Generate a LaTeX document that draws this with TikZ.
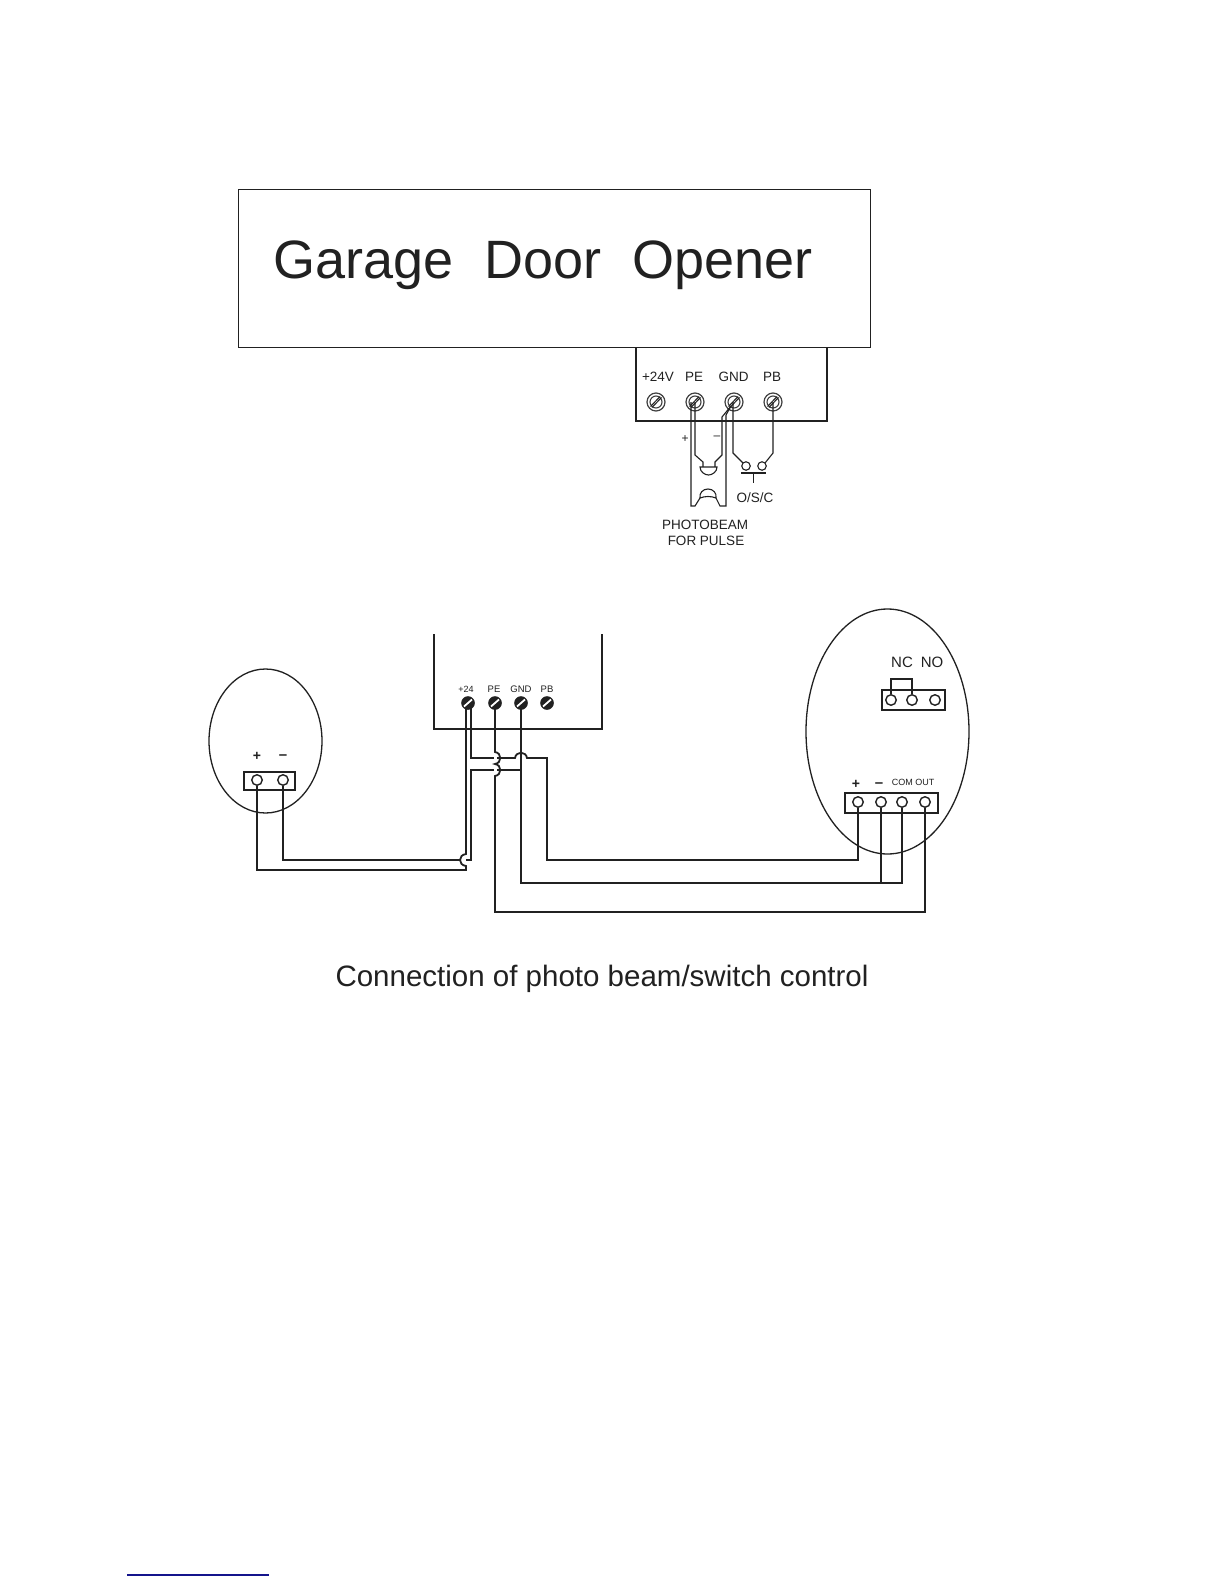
\documentclass[tikz,border=0pt]{standalone}
\usepackage{fontspec}
\setmainfont{Liberation Sans}
\usetikzlibrary{calc,shapes.geometric}
\definecolor{ink}{gray}{0.13}
\definecolor{soft}{gray}{0.25}
\definecolor{rulenavy}{RGB}{20,20,140}
\tikzset{
  lbl/.style={inner sep=0pt,text=ink,align=center},
  thinw/.style={draw=ink,line width=1.1pt,line join=miter},
  wire/.style={draw=ink,line width=1.8pt,line join=miter},
  outline/.style={draw=ink,line width=1.2pt},
  hole/.style={circle,draw=ink,fill=white,line width=1.4pt,minimum size=10.5pt,inner sep=0pt},
  screwA/.style={circle,draw=soft,fill=white,line width=1.2pt,minimum size=18pt,inner sep=0pt},
  screwB/.style={circle,fill=ink,draw=ink,line width=.5pt,minimum size=13pt,inner sep=0pt}
}
\newcommand{\screwslashA}[1]{%
  \draw[soft,line width=1.1pt] (#1.center) circle[radius=6pt];
  \draw[ink,line width=1pt] ($(#1.center)+(-5.5,4.5)$) -- ($(#1.center)+(4,-5.5)$)
                           ($(#1.center)+(-4,5.5)$) -- ($(#1.center)+(5.5,-4.5)$);}
\newcommand{\screwslashB}[1]{%
  \draw[white,line width=1.8pt] ($(#1.center)+(-4,3.5)$) -- ($(#1.center)+(4,-3.5)$);}
\begin{document}
\begin{tikzpicture}[x=1pt,y=-1pt]
\useasboundingbox (0,0) rectangle (1224,1584);
\fill[white] (0,0) rectangle (1224,1584);

% ---- upper unit
\node[draw=ink,line width=1.2pt,minimum width=632pt,minimum height=158pt,inner sep=0pt,anchor=north west] (opener) at (238,189) {};
\node[lbl,font=\fontsize{54}{54}\selectfont] (title) at (543,265) {Garage\hspace{.29em} Door\hspace{.29em} Opener};
\draw[outline] (636,347) -- (636,421) -- (827,421) -- (827,347);

\node[lbl,font=\fontsize{13.5}{14}\selectfont] (l24) at (658,377) {+24V};
\node[lbl,font=\fontsize{13.5}{14}\selectfont] (lpe) at (694,377) {PE};
\node[lbl,font=\fontsize{13.5}{14}\selectfont] (lgnd) at (733.5,377) {GND};
\node[lbl,font=\fontsize{13.5}{14}\selectfont] (lpb) at (772,377) {PB};

\node[screwA] (s24) at (656,402) {};
\node[screwA] (spe) at (695,402) {};
\node[screwA] (sgnd) at (734,402) {};
\node[screwA] (spb) at (773,402) {};
\screwslashA{s24}\screwslashA{spe}\screwslashA{sgnd}\screwslashA{spb}

% photobeam wires
\coordinate (pel) at ($(spe.center)+(-4,0)$);
\coordinate (gndd) at ($(sgnd.center)+(-3,4)$);
\draw[thinw] (pel) -- (691,506) -- (695,506) -- (700,498);
\draw[thinw] (gndd) -- (726,415) -- (726,506) -- (720,506) -- (716,498);
\draw[thinw] (spe.center) -- (695,455) -- (703,462) -- (703,467);
\draw[thinw] (gndd) -- (722,417) -- (722,455) -- (715,462) -- (715,467);
\draw[thinw,fill=white] (700,467) -- (717,467) .. controls (717,472) and (712,475) .. (708.5,475) .. controls (705,475) and (700,472) .. (700,467) -- cycle;
\draw[thinw,fill=white] (700,498) .. controls (699,493) and (703,489) .. (708,489) .. controls (713,489) and (717,493) .. (716,498) .. controls (711,496) and (705,496) .. (700,498) -- cycle;
\draw[thinw] (733,402) -- (733,453) -- (743,463);
\draw[thinw] (spb.center) -- (773,453) -- (765,463);
\node[hole,minimum size=8.5pt,line width=1.1pt] (osc1) at (746,466) {};
\node[hole,minimum size=8.5pt,line width=1.1pt] (osc2) at (762,466) {};
\coordinate (barl) at (741,473);
\coordinate (barr) at (766,473);
\coordinate (stem) at (753.5,473);
\draw[thinw] (barl) -- (barr);
\draw[thinw] (stem) -- +(0,10);
\node[lbl,font=\fontsize{12}{12}\selectfont] (plus1) at (685,439) {+};
\node[lbl,font=\fontsize{12}{12}\selectfont] (minus1) at (717,438) {–};
\node[lbl,font=\fontsize{13.5}{14}\selectfont] (osc) at (755,497.5) {O/S/C};
\node[lbl,font=\fontsize{13.5}{16}\selectfont] (pb1) at (705,524.5) {PHOTOBEAM};
\node[lbl,font=\fontsize{13.5}{16}\selectfont] (pb2) at (706,540.5) {FOR PULSE};

% ---- lower controller
\draw[wire] (434,634) -- (434,729) -- (602,729) -- (602,634);
\node[lbl,font=\fontsize{9}{9}\selectfont] (m24) at (466,689) {+24};
\node[lbl,font=\fontsize{9.5}{9}\selectfont] (mpe) at (494,689) {PE};
\node[lbl,font=\fontsize{9.5}{9}\selectfont] (mgnd) at (521,689) {GND};
\node[lbl,font=\fontsize{9.5}{9}\selectfont] (mpb) at (547,689) {PB};

% left sensor
\node[draw=ink,line width=1.3pt,ellipse,minimum width=113pt,minimum height=144pt,inner sep=0pt] (lsens) at (265.5,741) {};
\node[draw=ink,line width=1.7pt,minimum width=51pt,minimum height=18pt,inner sep=0pt,anchor=north west] (lblock) at (243,771) {};
\node[hole] (lp) at (257,780) {};
\node[hole] (lm) at (283,780) {};
\node[lbl,font=\bfseries\fontsize{14}{14}\selectfont] (lplus) at (257,756) {+};
\node[lbl,font=\bfseries\fontsize{15}{14}\selectfont] (lminus) at (283,757.5) {–};

% right sensor
\node[draw=ink,line width=1.3pt,ellipse,minimum width=163pt,minimum height=245pt,inner sep=0pt] (rsens) at (887.5,731.5) {};
\node[draw=ink,line width=1.7pt,minimum width=63pt,minimum height=20pt,inner sep=0pt,anchor=north west] (jblock) at (881,689) {};
\node[hole] (j1) at (891,700) {};
\node[hole] (j2) at (912,700) {};
\node[hole] (j3) at (935,700) {};
\draw[thinw] (j1.north) -- (891,679) -- (912,679) -- (j2.north);
\node[lbl,font=\fontsize{15}{15}\selectfont] (nc) at (902,662) {NC};
\node[lbl,font=\fontsize{15}{15}\selectfont] (no) at (932,662) {NO};
\node[draw=ink,line width=1.7pt,minimum width=93pt,minimum height=20pt,inner sep=0pt,anchor=north west] (tblock) at (844,792) {};
\node[hole] (rp) at (858,802) {};
\node[hole] (rm) at (881,802) {};
\node[hole] (rc) at (902,802) {};
\node[hole] (ro) at (925,802) {};
\node[lbl,font=\bfseries\fontsize{14}{14}\selectfont] (rplus) at (856,784) {+};
\node[lbl,font=\bfseries\fontsize{15}{14}\selectfont] (rminus) at (879,785.5) {–};
\node[lbl,font=\fontsize{9}{9}\selectfont] (comout) at (913,782) {COM OUT};

% wires
\node[screwB] (t24) at (468,703) {};
\node[screwB] (tpe) at (495,703) {};
\node[screwB] (tgnd) at (521,703) {};
\node[screwB] (tpb) at (547,703) {};

% + of left sensor to +24, bulging round the crossing
\draw[wire] (lp.south) -- (257,870) -- (466,870) -- (466,866)
   .. controls (458,865) and (458,855) .. (466,854) -- (466,703);
% - of left sensor up to GND row
\draw[wire] (lm.south) -- (283,860) -- (460,860);
\draw[wire] (466,860) -- (471,860) -- (471,770) -- (521,770);
% GND wire
\draw[wire] (tgnd.center) -- (521,883) -- (902,883) -- (rc.south);
\draw[wire] (rm.south) -- (881,883);
% + supply
\draw[wire] (471,703) -- (471,758) -- (515,758) .. controls (516,751) and (526,751) .. (527,758) -- (547,758)
   -- (547,860) -- (858,860) -- (rp.south);
% PE wire with bulges
\draw[white,line width=3pt] (495,756) -- (495,772);
\draw[wire] (tpe.center) -- (495,752) .. controls (502,753) and (502,763) .. (495,764)
   .. controls (502,765) and (502,775) .. (495,776) -- (495,912) -- (925,912) -- (ro.south);
\screwslashB{t24}\screwslashB{tpe}\screwslashB{tgnd}\screwslashB{tpb}

\node[lbl,font=\fontsize{29.5}{30}\selectfont] (caption) at (602,979) {Connection of photo beam/switch control};

\coordinate (ulA) at (127,1575);
\coordinate (ulB) at (269,1575);
\draw[rulenavy,line width=1.3pt] (ulA) -- (ulB);
\end{tikzpicture}
\end{document}
